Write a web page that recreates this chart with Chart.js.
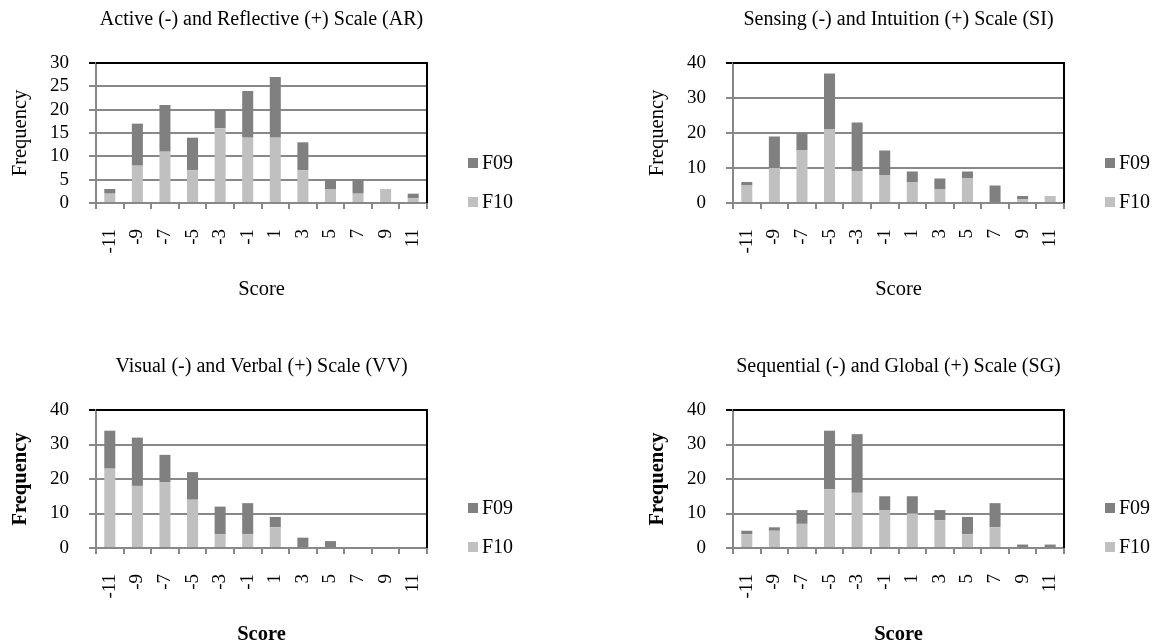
<!DOCTYPE html>
<html>
<head>
<meta charset="utf-8">
<script src="https://cdn.jsdelivr.net/npm/chart.js@4/dist/chart.umd.min.js"></script>
<style>
  body { margin: 0; background: #fff; overflow: hidden; }
  #wrap { position: relative; width: 1161px; height: 642px; }
  #wrap canvas { position: absolute; }
</style>
</head>
<body>
<div id="wrap">
  <canvas id="ar" width="524" height="300" style="left:0;top:0"></canvas>
  <canvas id="si" width="524" height="300" style="left:637px;top:0"></canvas>
  <canvas id="vv" width="524" height="300" style="left:0;top:345px"></canvas>
  <canvas id="sg" width="524" height="300" style="left:637px;top:345px"></canvas>
</div>
<script>
const scores = ["-11", "-9", "-7", "-5", "-3", "-1", "1", "3", "5", "7", "9", "11"];

const arF10 = [2, 8, 11, 7, 16, 14, 14, 7, 3, 2, 3, 1];
const arF09 = [1, 9, 10, 7, 4, 10, 13, 6, 2, 3, 0, 1];

const siF10 = [5, 10, 15, 21, 9, 8, 6, 4, 7, 0, 1, 2];
const siF09 = [1, 9, 5, 16, 14, 7, 3, 3, 2, 5, 1, 0];

const vvF10 = [23, 18, 19, 14, 4, 4, 6, 0, 0, 0, 0, 0];
const vvF09 = [11, 14, 8, 8, 8, 9, 3, 3, 2, 0, 0, 0];

const sgF10 = [4, 5, 7, 17, 16, 11, 10, 8, 4, 6, 0, 0];
const sgF09 = [1, 1, 4, 17, 17, 4, 5, 3, 5, 7, 1, 1];

const FONT = "'Liberation Serif', 'Times New Roman', serif";
const GRID = "#888888";

// black top + right border of the plot area
const frame = {
  id: "frame",
  afterDraw(chart) {
    const a = chart.chartArea, c = chart.ctx;
    c.save();
    c.strokeStyle = "#000";
    c.lineWidth = 2;
    c.beginPath();
    c.moveTo(a.left, a.top);
    c.lineTo(a.right, a.top);
    c.lineTo(a.right, a.bottom);
    c.stroke();
    c.restore();
  }
};

// legend to the right, F09 above F10
const sideLegend = {
  id: "sideLegend",
  afterDraw(chart) {
    const a = chart.chartArea, c = chart.ctx;
    const sets = chart.data.datasets.slice().reverse();
    c.save();
    c.font = "20px " + FONT;
    c.textBaseline = "middle";
    sets.forEach((d, i) => {
      const y = a.bottom - 40 + i * 39;
      c.fillStyle = d.backgroundColor;
      c.fillRect(a.right + 41, y - 5, 10, 10);
      c.fillStyle = "#000";
      c.fillText(d.label, a.right + 55, y + 1);
    });
    c.restore();
  }
};

function makeChart(id, title, f10, f09, yMax, yStep, bold, titleTop) {
  const weight = bold ? "bold" : "normal";
  new Chart(document.getElementById(id), {
    type: "bar",
    data: {
      labels: scores,
      datasets: [
        { label: "F10", data: f10, backgroundColor: "#c0c0c0", barPercentage: 0.4, categoryPercentage: 1 },
        { label: "F09", data: f09, backgroundColor: "#808080", barPercentage: 0.4, categoryPercentage: 1 }
      ]
    },
    options: {
      responsive: false,
      animation: false,
      layout: { padding: { top: 0, right: 97, bottom: 0, left: 0 } },
      plugins: {
        legend: { display: false },
        tooltip: { enabled: false },
        title: {
          display: true,
          text: title,
          fullSize: false,
          color: "#000",
          font: { family: FONT, size: 20, weight: "normal" },
          padding: { top: titleTop, bottom: 31 }
        }
      },
      scales: {
        x: {
          stacked: true,
          afterFit: s => { s.height = 97; },
          grid: { offset: true, drawOnChartArea: false, tickLength: 6, color: GRID, lineWidth: 2 },
          border: { color: GRID, width: 2 },
          ticks: { minRotation: 90, maxRotation: 90, autoSkip: false, padding: 20, color: "#000", font: { family: FONT, size: 19 } },
          title: { display: true, text: "Score", color: "#000", padding: { top: 0, bottom: -2 }, font: { family: FONT, size: 20.5, weight: weight } }
        },
        y: {
          stacked: true,
          min: 0,
          max: yMax,
          afterFit: s => { s.width = 96; },
          grid: {
            color: c => c.tick && c.tick.value === yMax ? "#000" : GRID,
            lineWidth: 2,
            tickLength: 7
          },
          border: { color: GRID, width: 2 },
          ticks: { stepSize: yStep, autoSkip: false, padding: 20, color: "#000", font: { family: FONT, size: 19 } },
          title: { display: true, text: "Frequency", color: "#000", padding: { top: 8, bottom: 0 }, font: { family: FONT, size: 20.5, weight: weight } }
        }
      }
    },
    plugins: [frame, sideLegend]
  });
}

makeChart("ar", "Active (-) and Reflective (+) Scale (AR)", arF10, arF09, 30, 5, false, 8);
makeChart("si", "Sensing (-) and Intuition (+) Scale (SI)", siF10, siF09, 40, 10, false, 8);
makeChart("vv", "Visual (-) and Verbal (+) Scale (VV)", vvF10, vvF09, 40, 10, true, 10);
makeChart("sg", "Sequential (-) and Global (+) Scale (SG)", sgF10, sgF09, 40, 10, true, 10);
</script>
</body>
</html>
